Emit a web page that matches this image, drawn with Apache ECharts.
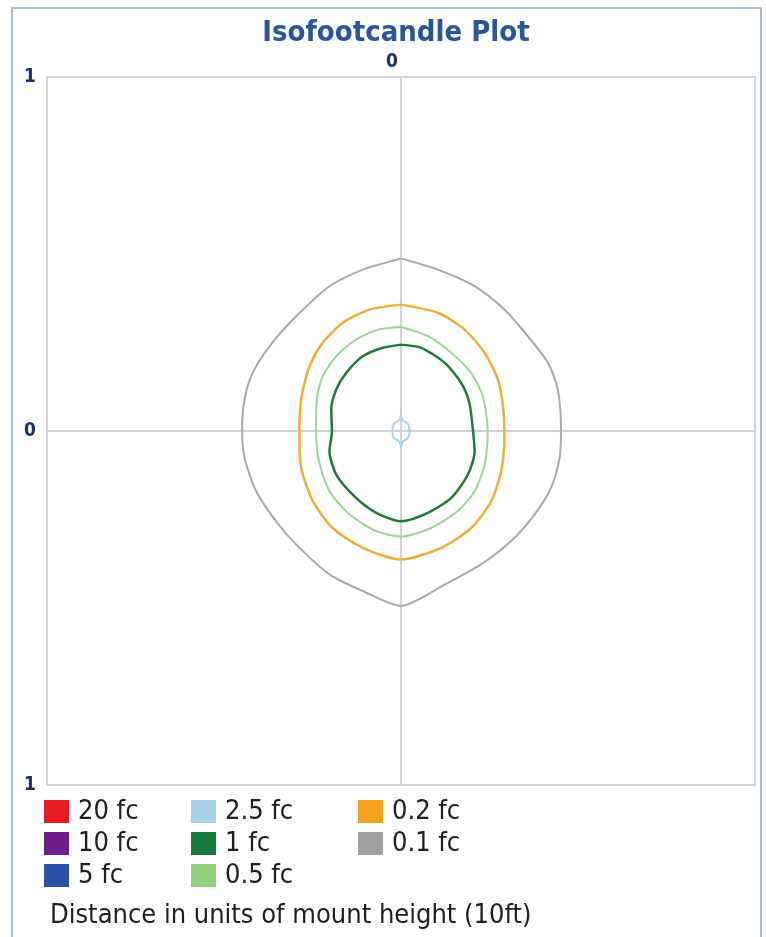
<!DOCTYPE html>
<html>
<head>
<meta charset="utf-8">
<script src="https://cdn.jsdelivr.net/npm/echarts@6/dist/echarts.min.js"></script>
<style>
  html, body { margin: 0; padding: 0; background: #fff; }
  #plot { width: 766px; height: 937px; }
</style>
</head>
<body>
<div id="plot"></div>
<script>
// levels shown in the legend, three per column
var legendCol1 = ['20 fc', '10 fc', '5 fc'];
var legendCol2 = ['2.5 fc', '1 fc', '0.5 fc'];
var legendCol3 = ['0.2 fc', '0.1 fc'];
var levelColors = {
  '20 fc': '#e81b23', '10 fc': '#6e1e8a', '5 fc': '#2d4fa8',
  '2.5 fc': '#a7d3ea', '1 fc': '#177a3a', '0.5 fc': '#8fcf7c',
  '0.2 fc': '#f5a21f', '0.1 fc': '#a0a0a2'
};
var axisTicks = [-1, 0, 1];

// contour outlines, in units of mount height
var fc01 = [[0,0.487],[0.104,0.456],[0.208,0.409],[0.292,0.343],[0.358,0.268],[0.415,0.193],[0.443,0.117],[0.452,0],
  [0.448,-0.076],[0.424,-0.160],[0.377,-0.236],[0.311,-0.311],[0.226,-0.377],[0.123,-0.434],[0,-0.494],
  [-0.108,-0.452],[-0.202,-0.405],[-0.296,-0.321],[-0.353,-0.255],[-0.409,-0.170],[-0.442,-0.076],[-0.449,0],
  [-0.442,0.089],[-0.419,0.164],[-0.371,0.240],[-0.296,0.324],[-0.202,0.409],[-0.108,0.456],[0,0.487]];
var fc02 = [[0,0.357],[0.104,0.334],[0.179,0.287],[0.236,0.221],[0.274,0.145],[0.288,0.07],[0.292,0],[0.291,-0.05],
  [0.283,-0.114],[0.255,-0.198],[0.198,-0.274],[0.114,-0.330],[0,-0.363],[-0.108,-0.330],[-0.193,-0.274],
  [-0.249,-0.198],[-0.282,-0.104],[-0.287,0],[-0.285,0.06],[-0.277,0.117],[-0.258,0.183],[-0.221,0.249],
  [-0.164,0.306],[-0.089,0.343],[0,0.357]];
var fc05 = [[0,0.294],[0.076,0.268],[0.142,0.221],[0.198,0.164],[0.231,0.098],[0.245,0],[0.236,-0.095],
  [0.208,-0.170],[0.160,-0.226],[0.085,-0.274],[0,-0.298],[-0.070,-0.283],[-0.145,-0.236],[-0.202,-0.170],
  [-0.232,-0.085],[-0.240,0],[-0.238,0.089],[-0.221,0.155],[-0.183,0.211],[-0.127,0.258],[-0.061,0.287],[0,0.294]];
var fc1 = [[0,0.244],[0.057,0.235],[0.123,0.193],[0.170,0.136],[0.193,0.080],[0.203,0.004],[0.208,-0.057],
  [0.189,-0.123],[0.142,-0.189],[0.076,-0.231],[0,-0.255],[-0.070,-0.231],[-0.127,-0.189],[-0.183,-0.123],
  [-0.202,-0.057],[-0.195,0],[-0.197,0.061],[-0.183,0.117],[-0.155,0.164],[-0.108,0.211],[-0.051,0.235],[0,0.244]];
var fc25 = [[0,0.045],[0.005,0.03],[0.02,0.02],[0.024,0],[0.02,-0.02],[0.005,-0.03],[0,-0.045],[-0.005,-0.03],
  [-0.02,-0.02],[-0.024,0],[-0.02,0.02],[-0.005,0.03],[0,0.045]];

var FONT = '"DejaVu Sans Condensed", "DejaVu Sans", sans-serif';
var chart = echarts.init(document.getElementById('plot'));

function contour(name, data, color, width) {
  return {
    name: name, type: 'line', data: data, symbol: 'none', smooth: 0.25,
    lineStyle: { color: color, width: width },
    itemStyle: { color: levelColors[name] },
    z: 3
  };
}
function legendCol(data, left) {
  return {
    data: data, orient: 'vertical', left: left, top: 798, padding: 0,
    icon: 'rect', itemWidth: 25, itemHeight: 23, itemGap: 5,
    selectedMode: false,
    textStyle: { fontFamily: FONT, fontSize: 27, lineHeight: 23, color: '#1e1e1e', padding: [0, 0, 0, 4] }
  };
}

var option = {
  backgroundColor: '#fff',
  animation: false,
  title: {
    text: 'Isofootcandle Plot',
    left: 391, top: 14, textAlign: 'center',
    textStyle: { fontFamily: FONT, fontSize: 29, fontWeight: 'bold', color: '#2a5599' }
  },
  graphic: [
    { type: 'rect', shape: { x: 12, y: 8, width: 749, height: 960 },
      style: { fill: 'none', stroke: '#aabccb', lineWidth: 2 }, z: 0 },
    { type: 'text', left: 50, top: 902,
      style: { text: 'Distance in units of mount height (10ft)', font: '27px ' + FONT, fill: '#1e1e1e' } }
  ],
  legend: [legendCol(legendCol1, 44), legendCol(legendCol2, 191), legendCol(legendCol3, 358)],
  grid: { left: 47, right: 11, top: 77, bottom: 152, show: true, borderColor: '#d6d6d6', borderWidth: 2 },
  xAxis: {
    type: 'value', position: 'top', min: axisTicks[0], max: axisTicks[2], interval: 1,
    axisLine: { show: false }, axisTick: { show: false },
    splitLine: { lineStyle: { color: '#cdd3da', width: 2 } },
    axisLabel: {
      margin: 5, padding: [0, 18, 0, 0],
      fontFamily: FONT, fontSize: 19, fontWeight: 'bold', color: '#1c2f6e',
      formatter: function (v) { return v === 0 ? '0' : ''; }
    }
  },
  yAxis: {
    type: 'value', min: axisTicks[0], max: axisTicks[2], interval: 1,
    axisLine: { show: false }, axisTick: { show: false },
    splitLine: { lineStyle: { color: '#cdd3da', width: 2 } },
    axisLabel: {
      margin: 11, fontFamily: FONT, fontSize: 19, fontWeight: 'bold', color: '#1c2f6e',
      formatter: function (v) { return String(Math.abs(v)); }
    }
  },
  series: [
    contour('20 fc', [], levelColors['20 fc'], 2),
    contour('10 fc', [], levelColors['10 fc'], 2),
    contour('5 fc', [], levelColors['5 fc'], 2),
    contour('2.5 fc', fc25, '#a9d3ea', 2),
    contour('1 fc', fc1, '#1f7a3e', 2.5),
    contour('0.5 fc', fc05, '#9cd795', 2),
    contour('0.2 fc', fc02, '#f2ad3c', 2.5),
    contour('0.1 fc', fc01, '#a9a9a9', 2)
  ]
};
chart.setOption(option);
</script>
</body>
</html>
